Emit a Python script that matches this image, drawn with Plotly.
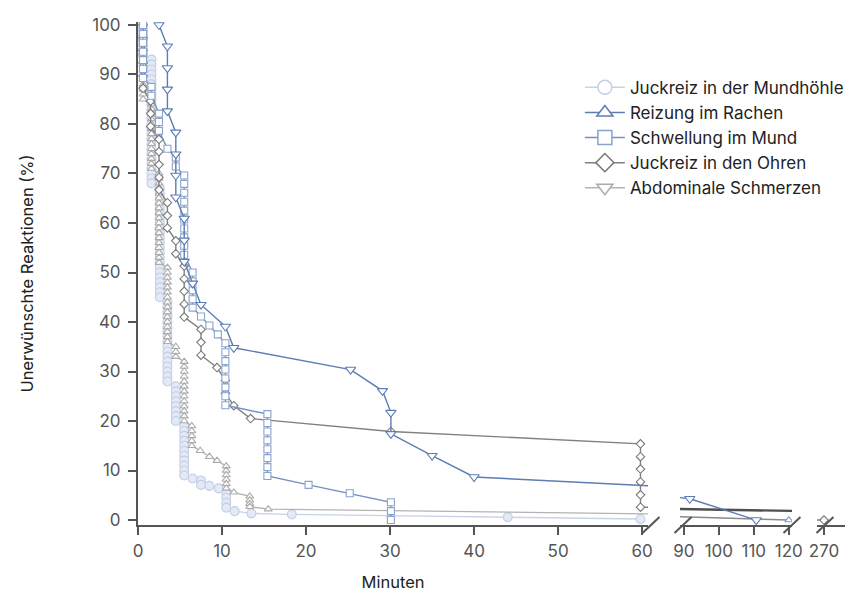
import plotly.graph_objects as go

# ---------------- data (minutes, % remaining) ----------------
# Juckreiz in der Mundhöhle  (columns of tied events)
mund_x = [0.6, 1.6, 2.6, 3.5, 4.5, 5.5, 6.5, 7.5, 8.5, 9.6, 10.5, 11.5, 13.5, 18.3, 44.0, 59.8]
mund_y = [
    [100, 99, 98, 97, 96, 95, 94],
    [93, 92, 91, 90, 89, 88, 87, 86, 85, 84, 83, 82, 81, 80, 79, 78, 77, 76, 75, 74, 73, 72, 71, 70, 69, 68],
    [67, 66, 65, 64, 63, 62, 61, 60, 59, 58, 57, 56, 55, 54, 53, 52, 51, 50, 49, 48, 47, 46, 45],
    [44, 43, 42, 41, 40, 39, 38, 37, 36, 35, 34, 33, 32, 31, 30, 29, 28],
    [27, 26, 25, 24, 23, 22, 21, 20],
    [19, 18, 17, 16, 15, 14, 13, 12, 11, 10, 9],
    [8.4],
    [8.0, 7.1],
    [6.9],
    [6.4],
    [5.5, 4.5, 3.5, 2.5],
    [1.8],
    [1.35],
    [1.15],
    [0.6],
    [0.2],
]

# Reizung im Rachen
rachen_x = [2.5, 3.5, 4.5, 5.5, 6.5, 7.5, 10.4, 11.4, 25.3, 29.1, 30.1, 35.0, 40.0, 91.7, 110.7]
rachen_y = [
    [100],
    [95.7, 91.3, 87.0, 82.6],
    [78.3, 73.9, 69.6, 65.2],
    [60.9, 56.5, 52.2],
    [47.8],
    [43.5],
    [39.1],
    [34.8],
    [30.4],
    [26.1],
    [21.7, 17.4],
    [13.0],
    [8.7],
    [4.3],
    [0],
]

# Schwellung im Mund
schw_x = [0.6, 1.6, 2.5, 3.5, 4.5, 5.5, 6.5, 7.5, 8.5, 9.5, 10.4, 15.4, 20.3, 25.2, 30.1]
schw_y = [
    [100, 98.2, 96.4, 94.6, 92.9, 91.1, 89.3],
    [87.5, 85.7],
    [82.1, 80.4, 78.6],
    [75.0],
    [73.2, 71.4],
    [69.6, 67.9, 66.1, 64.3, 62.5, 60.7, 58.9, 57.1, 55.4, 53.6],
    [50.0, 48.2, 46.4, 44.6, 42.9],
    [41.1],
    [39.3],
    [37.5],
    [35.7, 33.9, 32.1, 30.4, 28.6, 26.8, 25.0, 23.2],
    [21.4, 19.6, 17.9, 16.1, 14.3, 12.5, 10.7, 8.9],
    [7.1],
    [5.4],
    [3.6, 1.8, 0],
]

# Juckreiz in den Ohren
ohren_x = [0.6, 1.5, 2.5, 3.5, 4.5, 5.5, 7.5, 9.4, 10.4, 11.4, 13.4, 30.1, 59.8, 270]
ohren_y = [
    [100, 97.4, 94.9, 92.3, 89.7, 87.2],
    [84.6, 82.1, 79.5],
    [76.9, 74.4, 71.8, 69.2, 66.7],
    [64.1, 61.5, 59.0],
    [56.4, 53.8],
    [51.3, 48.7, 46.2, 43.6, 41.0],
    [38.5, 35.9, 33.3],
    [30.8],
    [28.2, 25.6],
    [23.1],
    [20.5],
    [17.9],
    [15.4, 12.8, 10.3, 7.7, 5.1, 2.6],
    [0],
]

# Abdominale Schmerzen
abdo_x = [0.6, 1.6, 2.5, 3.5, 4.5, 5.5, 6.4, 7.4, 8.5, 9.4, 10.5, 11.4, 13.3, 15.5, 120]
abdo_y = [
    [100, 99, 98, 97, 96, 95, 94, 93, 92, 91, 90, 89, 88, 87, 86, 85],
    [84, 83, 82, 81, 80, 79, 78, 77, 76, 75, 74, 73, 72, 71],
    [70, 69, 68, 67, 66, 65, 64, 63, 62, 61, 60, 59, 58, 57, 56, 55, 54, 53, 52],
    [51, 50, 49, 48, 47, 46, 45, 44, 43, 42, 41, 40, 39, 38, 37, 36],
    [35, 34, 33],
    [32, 31, 30, 29, 28, 27, 26, 25, 24, 23, 22, 21, 20],
    [19, 18, 17, 16, 15],
    [14.0],
    [12.8],
    [12.0],
    [10.9, 10.0, 9.1, 8.2, 7.3, 6.4],
    [5.6],
    [4.8, 4.0, 3.3, 2.7],
    [2.2],
    [0],
]

x1_ticks = [0, 10, 20, 30, 40, 50, 60]
x2_ticks = [90, 100, 110, 120]
x3_ticks = [270]
y_ticks = [0, 10, 20, 30, 40, 50, 60, 70, 80, 90, 100]


def flatten(cols_x, cols_y):
    xs, ys = [], []
    for cx, col in zip(cols_x, cols_y):
        for v in col:
            xs.append(cx)
            ys.append(v)
    return xs, ys


series = [
    # name, data, plot symbol, marker line colour, marker fill, line colour, marker size, legend symbol
    ("Juckreiz in der Mundhöhle", flatten(mund_x, mund_y), "circle", "#c3cfe7", "#e3e9f5", "#c8d3ea", 9, "circle"),
    ("Abdominale Schmerzen", flatten(abdo_x, abdo_y), "triangle-up", "#ababab", "white", "#b3b3b3", 7, "triangle-down"),
    ("Juckreiz in den Ohren", flatten(ohren_x, ohren_y), "diamond", "#787878", "white", "#808080", 6.5, "diamond"),
    ("Schwellung im Mund", flatten(schw_x, schw_y), "square", "#8aa3cf", "white", "#7590c2", 7, "square"),
    ("Reizung im Rachen", flatten(rachen_x, rachen_y), "triangle-down", "#5b7db4", "white", "#5b7db4", 9, "triangle-up"),
]

# styling overrides for the middle (90-120 min) panel
panel2_style = {
    "Juckreiz in den Ohren": dict(line="#505050", width=2.4, mline="#787878"),
    "Abdominale Schmerzen": dict(line="#8a8a8a", width=1.4, mline="#7f9bc9"),
}

FONT = "Inter, sans-serif"
FS = 17

fig = go.Figure()
for name, (xs, ys), sym, mlc, mfc, lc, ms, _ in series:
    for xa in ["x", "x2", "x3"]:
        lcol, lw, mcol = lc, 1.4, mlc
        if xa == "x2" and name in panel2_style:
            st = panel2_style[name]
            lcol, lw, mcol = st["line"], st["width"], st["mline"]
        fig.add_trace(go.Scatter(
            x=xs, y=ys, xaxis=xa, yaxis="y", mode="lines+markers",
            line=dict(color=lcol, width=lw),
            marker=dict(symbol=sym, size=ms, color=mfc, line=dict(color=mcol, width=1.1)),
            showlegend=False, hoverinfo="skip",
        ))

legend_order = ["Juckreiz in der Mundhöhle", "Reizung im Rachen", "Schwellung im Mund",
                "Juckreiz in den Ohren", "Abdominale Schmerzen"]
lookup = {s[0]: s for s in series}
for i, nm in enumerate(legend_order):
    _, _, _, mlc, _, lc, _, lsym = lookup[nm]
    fig.add_trace(go.Scatter(
        x=[None], y=[None], name=nm, mode="lines+markers",
        line=dict(color=lc, width=1.5),
        marker=dict(symbol=lsym, size=14, color="white", line=dict(color=mlc, width=1.5)),
    ))

axis_common = dict(
    showline=True, linecolor="#555555", linewidth=2, ticks="outside", ticklen=8,
    tickwidth=1.5, tickcolor="#555555", showgrid=False, zeroline=False,
    tickfont=dict(family=FONT, size=FS, color="#555555"), anchor="y", ticklabelstandoff=2,
    automargin=False,
)

fig.update_layout(
    width=864, height=594,
    margin=dict(l=130, r=27, t=14, b=77),
    plot_bgcolor="white", paper_bgcolor="white",
    font=dict(family=FONT, size=FS, color="#555555"),
    xaxis=dict(domain=[0, 0.7214], range=[0, 60.7], tickvals=x1_ticks,
               title=dict(text="Minuten", font=dict(family=FONT, size=FS - 0.5, color="#222222"), standoff=16),
               **axis_common),
    xaxis2=dict(domain=[0.7666, 0.925], range=[88.9, 120.9], tickvals=x2_ticks, **axis_common),
    xaxis3=dict(domain=[0.9604, 1.0], range=[268, 276], tickvals=x3_ticks, **axis_common),
    yaxis=dict(range=[-1, 100.6], tickvals=y_ticks, showline=True, linecolor="#555555",
               linewidth=2, ticks="outside", ticklen=8, tickwidth=1.5, tickcolor="#555555",
               showgrid=False, zeroline=False, tickfont=dict(family=FONT, size=FS, color="#555555"),
               ticklabelstandoff=4, automargin=False,
               title=dict(text="Unerwünschte Reaktionen (%)", font=dict(family=FONT, size=FS - 0.5, color="#222222"), standoff=54)),
    legend=dict(x=0.625, y=0.905, xanchor="left", yanchor="top",
                font=dict(family=FONT, size=FS, color="#222222"), bgcolor="rgba(0,0,0,0)",
                itemwidth=40, tracegroupgap=0),
)

# axis-break slashes
for cx in [0.7256, 0.7709, 0.925, 0.9717]:
    fig.add_shape(type="line", xref="paper", yref="paper",
                  x0=cx - 0.012, x1=cx + 0.012, y0=-0.0159, y1=0.0159,
                  line=dict(color="#555555", width=2))

fig.write_html("out.html")
